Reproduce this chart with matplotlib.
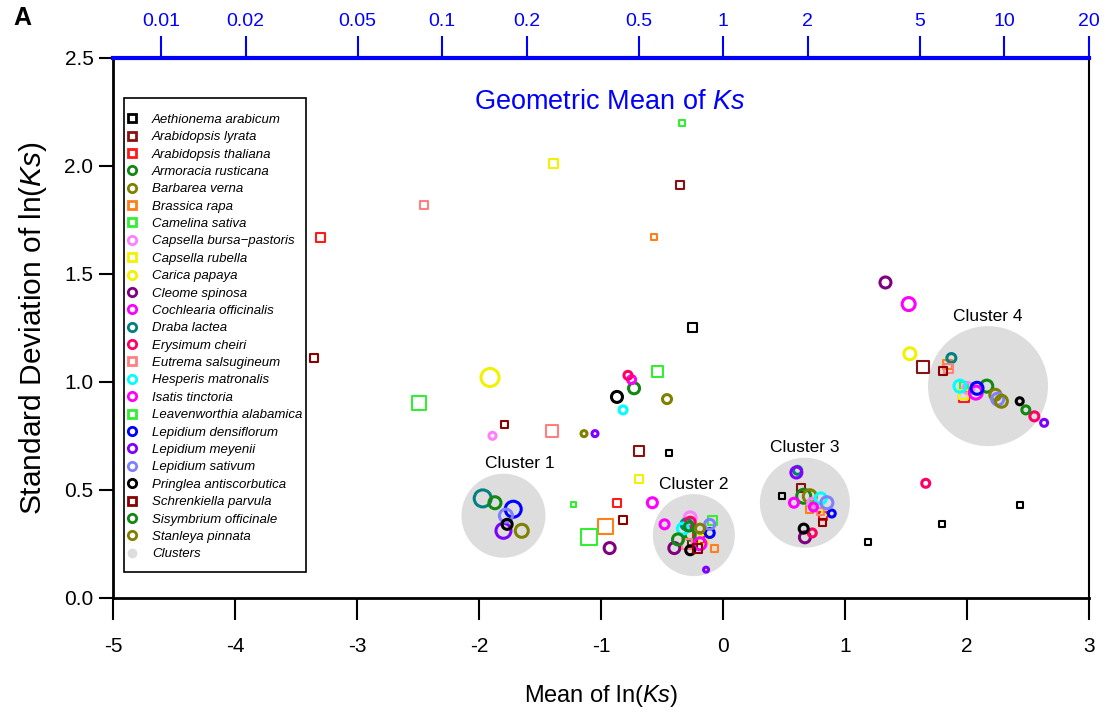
import numpy as np
import matplotlib
matplotlib.use('Agg')
import matplotlib.pyplot as plt
from matplotlib.lines import Line2D
from matplotlib.patches import Rectangle

plt.rcParams['font.family'] = ['Liberation Sans', 'DejaVu Sans']
plt.rcParams['mathtext.fontset'] = 'custom'
plt.rcParams['mathtext.rm'] = 'Liberation Sans'
plt.rcParams['mathtext.it'] = 'Liberation Sans:italic'
plt.rcParams['axes.unicode_minus'] = False

# species in legend order
species = ['Aethionema arabicum', 'Arabidopsis lyrata', 'Arabidopsis thaliana',
           'Armoracia rusticana', 'Barbarea verna', 'Brassica rapa', 'Camelina sativa',
           'Capsella bursa-pastoris', 'Capsella rubella', 'Carica papaya',
           'Cleome spinosa', 'Cochlearia officinalis', 'Draba lactea', 'Erysimum cheiri',
           'Eutrema salsugineum', 'Hesperis matronalis', 'Isatis tinctoria',
           'Leavenworthia alabamica', 'Lepidium densiflorum', 'Lepidium meyenii',
           'Lepidium sativum', 'Pringlea antiscorbutica', 'Schrenkiella parvula',
           'Sisymbrium officinale', 'Stanleya pinnata']

# species with a sequenced genome (drawn as squares)
genome_species = ['Aethionema arabicum', 'Arabidopsis lyrata', 'Arabidopsis thaliana',
                  'Brassica rapa', 'Camelina sativa', 'Capsella rubella',
                  'Eutrema salsugineum', 'Leavenworthia alabamica', 'Schrenkiella parvula']

# one entry per peak: species, mean of ln(Ks), sd of ln(Ks), relative size
pt_species = (
    ['Aethionema arabicum'] * 6 + ['Arabidopsis lyrata'] * 5 + ['Schrenkiella parvula'] * 6 +
    ['Arabidopsis thaliana'] * 5 + ['Brassica rapa'] * 5 + ['Camelina sativa'] * 5 +
    ['Leavenworthia alabamica'] * 3 + ['Capsella rubella'] * 5 + ['Eutrema salsugineum'] * 5 +
    ['Armoracia rusticana'] * 4 + ['Sisymbrium officinale'] * 4 + ['Barbarea verna'] * 4 +
    ['Stanleya pinnata'] * 3 + ['Capsella bursa-pastoris'] * 4 + ['Carica papaya'] * 2 +
    ['Cleome spinosa'] * 4 + ['Cochlearia officinalis'] * 4 + ['Isatis tinctoria'] * 4 +
    ['Draba lactea'] * 4 + ['Erysimum cheiri'] * 5 + ['Hesperis matronalis'] * 4 +
    ['Lepidium densiflorum'] * 4 + ['Lepidium meyenii'] * 5 + ['Lepidium sativum'] * 4 +
    ['Pringlea antiscorbutica'] * 5
)
pt_mean = [
    -0.25, -0.44, 0.48, 1.19, 1.79, 2.43,
    -0.35, -0.69, -0.25, 0.64, 1.64,
    -3.35, -1.79, -0.82, -0.21, 0.81, 1.80,
    -3.30, -0.87, -0.20, 0.82, 1.97,
    -0.57, -0.96, -0.07, 0.71, 1.84,
    -0.34, -1.23, -0.09, 0.73, 1.97,
    -2.49, -0.54, -1.10,
    -1.39, -0.69, -0.16, 0.84, 1.97,
    -2.45, -1.40, -0.30, 0.80, 1.85,
    -0.73, -0.27, 0.66, 2.16,
    -1.87, -0.37, -0.28, 2.48,
    -0.46, -1.65, 0.71, 2.23,
    -1.14, 2.28, -0.19,
    -1.89, -0.27, 0.73, 2.01,
    -1.91, 1.53,
    1.33, -0.93, -0.40, 0.67,
    1.52, -0.75, 0.58, 2.07,
    -0.58, -0.48, 0.74, -0.19,
    -1.97, -0.30, 0.61, 1.87,
    -0.78, 1.66, 0.73, 2.55, -0.27,
    -0.82, -0.33, 0.80, 1.94,
    -1.72, -0.11, 0.89, 2.08,
    -1.05, -1.80, -0.14, 0.60, 2.63,
    -1.78, -0.11, 0.85, 2.25,
    -0.87, -1.77, -0.27, 0.66, 2.43,
]
pt_sd = [
    1.25, 0.67, 0.47, 0.26, 0.34, 0.43,
    1.91, 0.68, 0.25, 0.51, 1.07,
    1.11, 0.80, 0.36, 0.23, 0.35, 1.05,
    1.67, 0.44, 0.28, 0.38, 0.93,
    1.67, 0.33, 0.23, 0.41, 1.08,
    2.20, 0.43, 0.36, 0.43, 0.98,
    0.90, 1.05, 0.28,
    2.01, 0.55, 0.27, 0.40, 0.94,
    1.82, 0.77, 0.25, 0.40, 1.06,
    0.97, 0.29, 0.47, 0.98,
    0.44, 0.27, 0.33, 0.87,
    0.92, 0.31, 0.47, 0.94,
    0.76, 0.91, 0.32,
    0.75, 0.37, 0.44, 0.97,
    1.02, 1.13,
    1.46, 0.23, 0.23, 0.28,
    1.36, 1.01, 0.44, 0.95,
    0.44, 0.34, 0.42, 0.25,
    0.46, 0.34, 0.59, 1.11,
    1.03, 0.53, 0.30, 0.84, 0.35,
    0.87, 0.32, 0.46, 0.98,
    0.41, 0.30, 0.39, 0.97,
    0.76, 0.31, 0.13, 0.58, 0.81,
    0.38, 0.34, 0.44, 0.92,
    0.93, 0.34, 0.22, 0.32, 0.91,
]
pt_size = [
    9, 6, 6, 6, 6, 6,
    8, 10, 9, 8, 12,
    8, 7, 8, 9, 7, 8,
    9, 8, 11, 8, 10,
    6, 15, 7, 7, 9,
    6, 5, 9, 6, 8,
    14, 11, 16,
    9, 8, 9, 7, 9,
    8, 12, 10, 7, 9,
    11, 10, 14, 12,
    12, 11, 9, 8,
    9, 13, 13, 11,
    6, 12, 9,
    7, 12, 9, 11,
    18, 12,
    11, 11, 11, 11,
    13, 8, 9, 13,
    10, 9, 8, 12,
    17, 11, 8, 9,
    8, 8, 8, 9, 10,
    8, 11, 11, 12,
    16, 9, 7, 12,
    6, 15, 5, 11, 7,
    13, 10, 12, 12,
    11, 10, 9, 9, 7,
]

# clusters of WGD peaks
cluster_names = ['Cluster 1', 'Cluster 2', 'Cluster 3', 'Cluster 4']
cluster_mean = [-1.80, -0.24, 0.67, 2.17]
cluster_sd = [0.38, 0.29, 0.44, 0.98]
cluster_size = [84, 82, 90, 120]

# top axis: Ks values
top_vals = [0.01, 0.02, 0.05, 0.1, 0.2, 0.5, 1, 2, 5, 10, 20]

colors = {
    'Aethionema arabicum': '#000000', 'Arabidopsis lyrata': '#8B1010',
    'Arabidopsis thaliana': '#FF1A1A', 'Armoracia rusticana': '#118811',
    'Barbarea verna': '#808000', 'Brassica rapa': '#FF7F1A',
    'Camelina sativa': '#33EE33', 'Capsella bursa-pastoris': '#FF80FF',
    'Capsella rubella': '#F2F200', 'Carica papaya': '#F2F200',
    'Cleome spinosa': '#800080', 'Cochlearia officinalis': '#FF00FF',
    'Draba lactea': '#008080', 'Erysimum cheiri': '#FF0066',
    'Eutrema salsugineum': '#FF8080', 'Hesperis matronalis': '#00FFFF',
    'Isatis tinctoria': '#FF00FF', 'Leavenworthia alabamica': '#33EE33',
    'Lepidium densiflorum': '#0000FF', 'Lepidium meyenii': '#8000FF',
    'Lepidium sativum': '#8080FF', 'Pringlea antiscorbutica': '#000000',
    'Schrenkiella parvula': '#8B0000', 'Sisymbrium officinale': '#118811',
    'Stanleya pinnata': '#808000',
}

fig = plt.figure(figsize=(11.07, 7.15), dpi=100)
ax = fig.add_axes([0.102, 0.164, 0.882, 0.755])

px2pt = 72 / 100

# gray cluster discs
ax.scatter(cluster_mean, cluster_sd, s=(np.array(cluster_size) * px2pt) ** 2,
           color='#DDDDDD', edgecolors='none', zorder=1)
for name, x, y, d in zip(cluster_names, cluster_mean, cluster_sd, cluster_size):
    dx = 16 if name == 'Cluster 1' else 0
    ax.annotate(name, (x, y), xytext=(dx * px2pt, (d / 2 + 10) * px2pt),
                textcoords='offset points', ha='center', va='center', fontsize=12.5)

pt_species = np.array(pt_species)
pt_mean = np.array(pt_mean)
pt_sd = np.array(pt_sd)
pt_size = np.array(pt_size, dtype=float)

for sp in species:
    m = pt_species == sp
    sq = sp in genome_species
    ax.scatter(pt_mean[m], pt_sd[m], s=(pt_size[m] * px2pt) ** 2,
               marker='s' if sq else 'o', facecolors='none',
               edgecolors=colors[sp], linewidths=1.5 if sq else 2.2, zorder=2)

ax.set_xlim(-5, 3)
ax.set_ylim(0, 2.5)
ax.set_xticks(range(-5, 4))
ax.set_yticks(np.arange(0, 2.51, 0.5))
ax.yaxis.set_major_formatter('{x:.1f}')
ax.tick_params(axis='x', direction='out', length=16, width=1.5, labelsize=15, pad=12)
ax.tick_params(axis='y', direction='out', length=10, width=1.5, labelsize=15, pad=4)
ax.spines['top'].set_visible(False)
ax.spines['left'].set_linewidth(2)
ax.spines['bottom'].set_linewidth(2)
ax.spines['right'].set_linewidth(1.5)

ax.set_xlabel('Mean of ln($\\mathit{Ks}$)', fontsize=17, labelpad=20)
ax.set_ylabel('Standard Deviation of ln($\\mathit{Ks}$)', fontsize=21.5, labelpad=11)

ax.text(0.509, 0.919, 'Geometric Mean of $\\mathit{Ks}$', transform=ax.transAxes,
        color='blue', fontsize=19.5, ha='center', va='center')

# legend frame
ax.add_patch(Rectangle((0.0113, 0.048), 0.1865, 0.878, transform=ax.transAxes,
                       facecolor='white', edgecolor='black', linewidth=1.2, zorder=5))

# top axis in Ks units
ax2 = ax.twiny()
ax2.set_xlim(ax.get_xlim())
ax2.set_xticks(np.log(top_vals))
ax2.set_xticklabels([f'{v:g}' for v in top_vals])
ax2.tick_params(axis='x', colors='blue', direction='out', length=16, width=1.5,
                labelsize=14, pad=4)
for s in ['left', 'right', 'bottom']:
    ax2.spines[s].set_visible(False)
ax2.spines['top'].set_color('blue')
ax2.spines['top'].set_linewidth(3)

handles = []
for sp in species:
    sq = sp in genome_species
    handles.append(Line2D([], [], ls='none', marker='s' if sq else 'o', ms=6,
                          mfc='none', mec=colors[sp], mew=2))
handles.append(Line2D([], [], ls='none', marker='o', ms=6, mfc='#DDDDDD', mec='#DDDDDD'))
labels = [s.replace('-', '\u2212') for s in species] + ['Clusters']
leg = ax2.legend(handles, labels, loc='upper left', bbox_to_anchor=(0.0143, 0.897),
                 bbox_transform=ax.transAxes, prop={'style': 'italic', 'size': 9.5},
                 frameon=False, borderaxespad=0, borderpad=0,
                 handlelength=0.8, handletextpad=1.1, labelspacing=0.39)

fig.text(0.012, 0.975, 'A', fontsize=18, fontweight='bold', va='center')

plt.savefig('out.png', dpi=100)
